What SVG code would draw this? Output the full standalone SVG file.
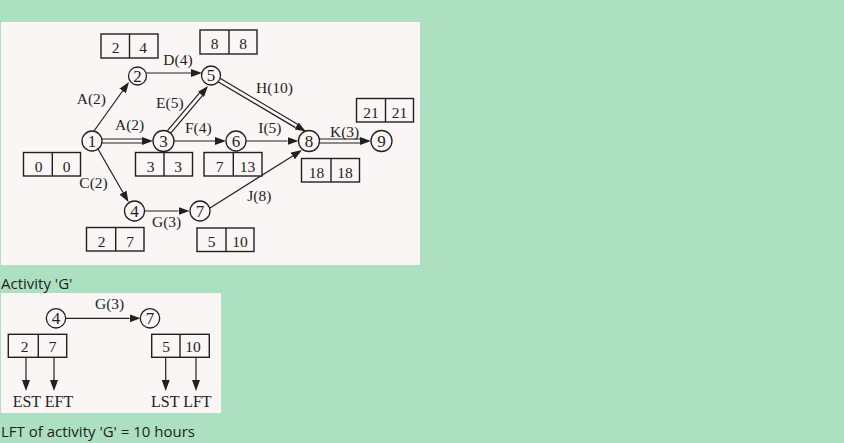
<svg xmlns="http://www.w3.org/2000/svg" width="844" height="443" viewBox="0 0 844 443">
<defs>
<marker id="ah" markerUnits="userSpaceOnUse" viewBox="0 0 11 8" refX="0" refY="4" markerWidth="11" markerHeight="8" orient="auto">
<path d="M0,0 L11,4 L0,8 Z" fill="#231f20"/>
</marker>
<style>
.panel{fill:#faf6f6}
.nd{fill:#faf6f6;stroke:#231f20;stroke-width:1.3}
.bx{fill:#faf6f6;stroke:#231f20;stroke-width:1.4}
.dv{stroke:#231f20;stroke-width:1.4}
.t{font-family:"Liberation Serif","Times New Roman",serif;font-size:15.5px;fill:#231f20}
.n{font-family:"Liberation Serif","Times New Roman",serif;font-size:17px;fill:#231f20;text-anchor:middle}
.bn{font-family:"Liberation Serif","Times New Roman",serif;font-size:15.5px;fill:#231f20;text-anchor:middle}
.s{fill:none;stroke:#231f20;stroke-width:1.2;marker-end:url(#ah)}
.o{fill:none;stroke:#231f20;stroke-width:5.2;marker-end:url(#ah)}
.i{fill:none;stroke:#faf6f6;stroke-width:2.8}
.cap{font-family:"Open Sans","Noto Sans",sans-serif;font-size:15px;fill:#1f1f1f}
</style>
</defs>
<rect x="0" y="0" width="844" height="443" fill="#ade0c1"/>
<rect class="panel" x="1" y="22" width="419" height="243"/>
<rect class="panel" x="1" y="293" width="220" height="120"/>

<g id="connectors">
<path class="s" d="M94,131 L122.6,91"/>
<path class="s" d="M146,73 L191,73"/>
<path class="o" d="M102,141 L142,141"/><path class="i" d="M102,141 L142,141"/>
<path class="o" d="M169,132 L200.9,94.4"/><path class="i" d="M169,132 L200.9,94.4"/>
<path class="s" d="M173.5,141 L215,141"/>
<path class="s" d="M246,141 L287.5,141"/>
<path class="o" d="M219,80 L296.5,125.9"/><path class="i" d="M219,80 L296.5,125.9"/>
<path class="o" d="M319.5,141 L360,141"/><path class="i" d="M319.5,141 L360,141"/>
<path class="s" d="M98,149 L123,192.5"/>
<path class="s" d="M145,211 L178.5,211"/>
<path class="s" d="M210,208 L292.7,155.9"/>
<path class="s" d="M66,318.3 L129.5,318.3"/>
<path class="s" d="M26,357.3 L26,380"/>
<path class="s" d="M54,357.3 L54,380"/>
<path class="s" d="M165.7,357.3 L165.7,380"/>
<path class="s" d="M196,357.3 L196,380"/>
</g>

<g id="edge-labels">
<text class="t" x="76.7" y="104.3">A(2)</text>
<text class="t" x="163.3" y="65">D(4)</text>
<text class="t" x="156" y="108.3">E(5)</text>
<text class="t" x="115" y="130">A(2)</text>
<text class="t" x="185" y="133">F(4)</text>
<text class="t" x="256" y="92.7">H(10)</text>
<text class="t" x="258.3" y="133.3">I(5)</text>
<text class="t" x="330" y="136.7">K(3)</text>
<text class="t" x="79.3" y="188.3">C(2)</text>
<text class="t" x="152" y="227.3">G(3)</text>
<text class="t" x="247.3" y="201">J(8)</text>
<text class="t" x="95" y="309.3">G(3)</text>
</g>

<g id="node-1"><circle class="nd" cx="92" cy="141" r="10"/><text class="n" x="92" y="146.8">1</text></g>
<g id="node-2"><circle class="nd" cx="137.5" cy="76" r="9"/><text class="n" x="137.5" y="81.8">2</text></g>
<g id="node-3"><circle class="nd" cx="163.5" cy="141" r="10.5"/><text class="n" x="163.5" y="146.8">3</text></g>
<g id="node-4"><circle class="nd" cx="134.5" cy="211" r="10"/><text class="n" x="134.5" y="216.8">4</text></g>
<g id="node-5"><circle class="nd" cx="211" cy="75.5" r="9.5"/><text class="n" x="211" y="81.3">5</text></g>
<g id="node-6"><circle class="nd" cx="236" cy="141" r="10"/><text class="n" x="236" y="146.8">6</text></g>
<g id="node-7"><circle class="nd" cx="200" cy="211" r="10"/><text class="n" x="200" y="216.8">7</text></g>
<g id="node-8"><circle class="nd" cx="309" cy="141" r="10.5"/><text class="n" x="309" y="146.8">8</text></g>
<g id="node-9"><circle class="nd" cx="381.5" cy="141" r="10.5"/><text class="n" x="381.5" y="146.8">9</text></g>

<g id="box-2-4"><rect class="bx" x="101" y="34" width="57" height="24"/><line class="dv" x1="129.5" y1="34" x2="129.5" y2="58"/><text class="bn" x="115.5" y="53">2</text><text class="bn" x="143" y="53">4</text></g>
<g id="box-8-8"><rect class="bx" x="200" y="30" width="57" height="24"/><line class="dv" x1="229" y1="30" x2="229" y2="54"/><text class="bn" x="214.5" y="49">8</text><text class="bn" x="243" y="49">8</text></g>
<g id="box-21-21"><rect class="bx" x="356.5" y="98.5" width="57" height="23.5"/><line class="dv" x1="385.5" y1="98.5" x2="385.5" y2="122"/><text class="bn" x="371" y="117.5">21</text><text class="bn" x="399.5" y="117.5">21</text></g>
<g id="box-0-0"><rect class="bx" x="23.5" y="152.5" width="57" height="23.5"/><line class="dv" x1="52.3" y1="152.5" x2="52.3" y2="176"/><text class="bn" x="38.5" y="171.5">0</text><text class="bn" x="66.5" y="171.5">0</text></g>
<g id="box-3-3"><rect class="bx" x="135.5" y="152.5" width="57" height="23.5"/><line class="dv" x1="164" y1="152.5" x2="164" y2="176"/><text class="bn" x="150.5" y="171.5">3</text><text class="bn" x="178" y="171.5">3</text></g>
<g id="box-7-13"><rect class="bx" x="204" y="152.5" width="58" height="23.5"/><line class="dv" x1="233.3" y1="152.5" x2="233.3" y2="176"/><text class="bn" x="219.5" y="171.5">7</text><text class="bn" x="247.5" y="171.5">13</text></g>
<g id="box-18-18"><rect class="bx" x="301.5" y="158.5" width="58" height="23.5"/><line class="dv" x1="331" y1="158.5" x2="331" y2="182"/><text class="bn" x="316.5" y="177.5">18</text><text class="bn" x="345" y="177.5">18</text></g>
<g id="box-2-7"><rect class="bx" x="86.5" y="227.5" width="57.5" height="23.5"/><line class="dv" x1="115.7" y1="227.5" x2="115.7" y2="251"/><text class="bn" x="101.5" y="246.5">2</text><text class="bn" x="130" y="246.5">7</text></g>
<g id="box-5-10"><rect class="bx" x="197" y="228" width="57" height="23.5"/><line class="dv" x1="226" y1="228" x2="226" y2="251.5"/><text class="bn" x="211.5" y="247">5</text><text class="bn" x="240" y="247">10</text></g>

<text class="cap" x="1" y="288.5">Activity 'G'</text>

<g id="g-node-4"><circle class="nd" cx="56" cy="318.3" r="9.7"/><text class="n" x="56" y="324.1">4</text></g>
<g id="g-node-7"><circle class="nd" cx="150" cy="318.3" r="9.7"/><text class="n" x="150" y="324.1">7</text></g>
<g id="g-box-2-7"><rect class="bx" x="8.3" y="334.3" width="58.4" height="23"/><line class="dv" x1="38.3" y1="334.3" x2="38.3" y2="357.3"/><text class="bn" x="24.5" y="352.3">2</text><text class="bn" x="52.5" y="352.3">7</text></g>
<g id="g-box-5-10"><rect class="bx" x="151.7" y="334.3" width="57.6" height="23"/><line class="dv" x1="180" y1="334.3" x2="180" y2="357.3"/><text class="bn" x="166" y="352.3">5</text><text class="bn" x="193" y="352.3">10</text></g>
<g id="g-labels">
<text class="t" x="12.7" y="406.7" style="font-size:16px">EST EFT</text>
<text class="t" x="151" y="406.7" style="font-size:16px">LST LFT</text>
</g>

<text class="cap" x="1" y="437">LFT of activity 'G' = 10 hours</text>
</svg>
